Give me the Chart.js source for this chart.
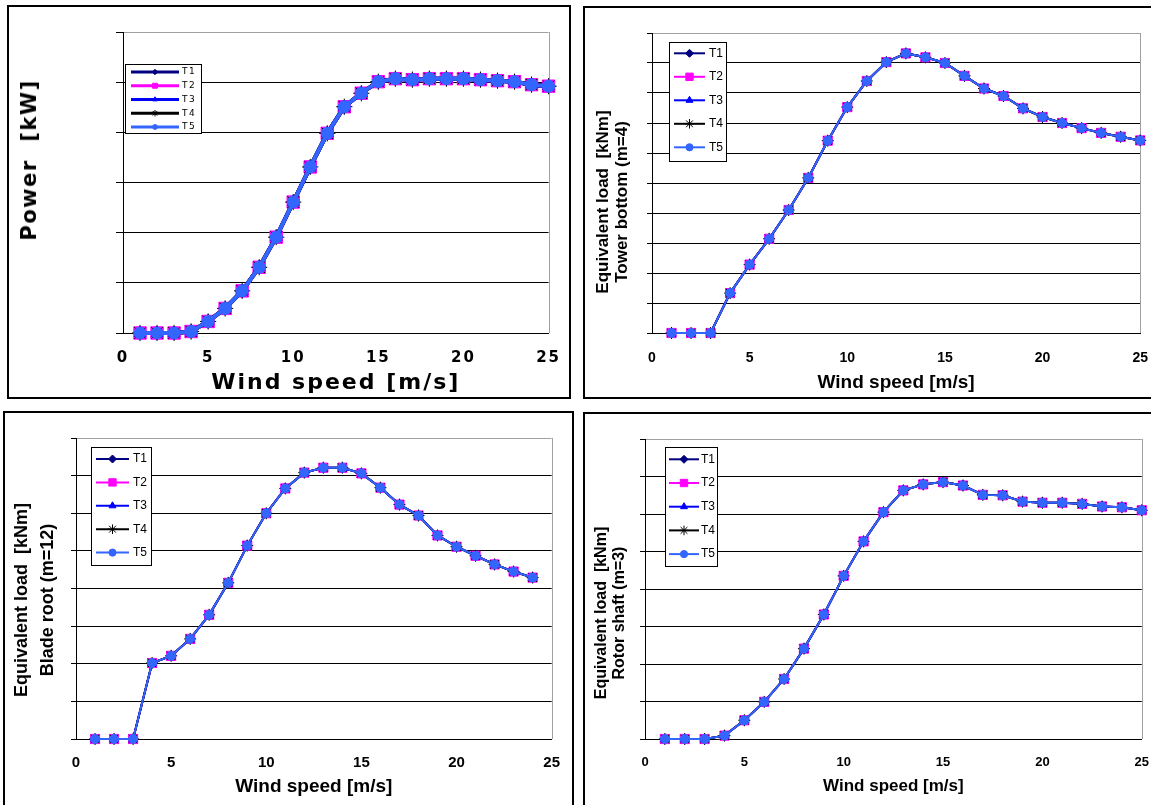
<!DOCTYPE html>
<html>
<head>
<meta charset="utf-8">
<script src="https://cdn.jsdelivr.net/npm/chart.js@4.4.1/dist/chart.umd.min.js"></script>
<style>
body { margin: 0; width: 1151px; height: 805px; overflow: hidden; background: #fff; position: relative; font-family: "Liberation Sans", Arial, sans-serif; }
.frame { position: absolute; border: 2px solid #000; box-sizing: border-box; }
canvas { position: absolute; }
.ytitle { position: absolute; transform: translate(-50%, -50%) rotate(-90deg); white-space: pre; text-align: center; font-weight: bold; color: #000; }
</style>
</head>
<body>
<div class="frame" style="left:7px;top:5px;width:564px;height:394px"></div>
<div class="frame" style="left:583px;top:6px;width:600px;height:393px"></div>
<div class="frame" style="left:3px;top:411px;width:571px;height:420px"></div>
<div class="frame" style="left:583px;top:412px;width:600px;height:420px"></div>

<canvas id="power" width="575" height="400" style="left:0;top:0"></canvas>
<canvas id="tower" width="590" height="400" style="left:575px;top:0"></canvas>
<canvas id="blade" width="575" height="405" style="left:0;top:400px"></canvas>
<canvas id="rotor" width="590" height="405" style="left:575px;top:400px"></canvas>

<div class="ytitle" style="left:29px;top:160px;font-family:'DejaVu Sans';font-size:21px;letter-spacing:1.5px">Power  [kW]</div>
<div class="ytitle" style="left:612px;top:202px;font-size:17px;line-height:19px">Equivalent load  [kNm]
Tower bottom (m=4)</div>
<div class="ytitle" style="left:34px;top:600px;font-size:18px;line-height:26px">Equivalent load  [kNm]
Blade root (m=12)</div>
<div class="ytitle" style="left:610px;top:613px;font-size:16px;line-height:18px">Equivalent load  [kNm]
Rotor shaft (m=3)</div>

<script>
// wind speed bins [m/s]
const windSpeed = [1, 2, 3, 4, 5, 6, 7, 8, 9, 10, 11, 12, 13, 14, 15, 16, 17, 18, 19, 20, 21, 22, 23, 24, 25];
const seriesNames = ['T1', 'T2', 'T3', 'T4', 'T5'];
const xTicks = [0, 5, 10, 15, 20, 25];

// the five towers give the same curves, so each panel has one set of values
const powerKW = [0, 0, 0, 15, 115, 245, 420, 655, 955, 1305, 1655, 1990, 2255, 2390, 2505, 2535, 2525, 2535, 2535, 2535, 2525, 2515, 2505, 2475, 2460];
const towerBottom = [0, 0, 0, 1330, 2280, 3140, 4100, 5170, 6410, 7530, 8400, 9030, 9320, 9190, 9000, 8570, 8150, 7900, 7490, 7200, 7000, 6830, 6670, 6540, 6420];
const bladeRoot = [0, 0, 0, 1010, 1105, 1330, 1650, 2075, 2570, 3000, 3330, 3540, 3605, 3605, 3530, 3340, 3115, 2970, 2705, 2555, 2435, 2320, 2225, 2145];
const rotorShaft = [0, 0, 0, 9, 50, 99, 160, 241, 332, 435, 527, 605, 663, 679, 685, 676, 651, 650, 633, 630, 630, 627, 620, 618, 610];

const seriesStyle = [
    { color: '#000080', point: 'rectRot', r: 5 },
    { color: '#ff00ff', point: 'rect', r: 6.5 },
    { color: '#0000ff', point: 'triangle', r: 5 },
    { color: '#000000', point: 'star', r: 6 },
    { color: '#3366ff', point: 'circle', r: 4.5 }
];

// gray right edge of the plot area
const plotFrame = {
    id: 'plotFrame',
    beforeDatasetsDraw(chart) {
        const { ctx, chartArea: a } = chart;
        const x = Math.round(a.right) + 0.5;
        ctx.save();
        ctx.strokeStyle = '#a0a0a0';
        ctx.lineWidth = 1;
        ctx.beginPath();
        ctx.moveTo(x, a.top);
        ctx.lineTo(x, a.bottom);
        ctx.stroke();
        ctx.restore();
    }
};

const spacer = {
    id: 'spacer',
    beforeDraw(chart, args, opts) {
        chart.ctx.letterSpacing = opts.value || '0px';
    }
};

// boxed legend sitting inside the plot area
const boxLegend = {
    id: 'boxLegend',
    afterDraw(chart, args, o) {
        const ctx = chart.ctx;
        ctx.save();
        ctx.letterSpacing = o.spacing || '0px';
        ctx.fillStyle = '#fff';
        ctx.fillRect(o.x, o.y, o.w, o.h);
        ctx.strokeStyle = '#000';
        ctx.lineWidth = 1;
        ctx.strokeRect(o.x + 0.5, o.y + 0.5, o.w, o.h);
        ctx.font = o.font;
        ctx.textBaseline = 'middle';
        chart.data.datasets.forEach((ds, i) => {
            const y = o.y + o.first + i * o.step;
            const x0 = o.x + o.lineX;
            const x1 = x0 + o.lineLen;
            ctx.strokeStyle = ds.borderColor;
            ctx.lineWidth = o.lineWidth;
            ctx.beginPath();
            ctx.moveTo(x0, y);
            ctx.lineTo(x1, y);
            ctx.stroke();
            ctx.fillStyle = ds.pointBackgroundColor;
            ctx.strokeStyle = ds.pointBorderColor;
            ctx.lineWidth = 1;
            const r = ds.pointRadius * o.markScale;
            if (Chart.helpers && Chart.helpers.drawPoint) {
                Chart.helpers.drawPoint(ctx, { pointStyle: ds.pointStyle, radius: r, borderWidth: 1, rotation: 0 }, (x0 + x1) / 2, y);
            }
            ctx.fillStyle = '#000';
            ctx.fillText(ds.label, o.x + o.textX, y);
        });
        ctx.restore();
    }
};

function makeChart(id, values, p) {
    const ctx = document.getElementById(id).getContext('2d');
    return new Chart(ctx, {
        type: 'line',
        data: {
            datasets: seriesNames.map((name, i) => {
                const s = seriesStyle[i];
                return {
                    label: name,
                    data: values.map((v, k) => ({ x: windSpeed[k], y: v })),
                    borderColor: s.color,
                    backgroundColor: s.color,
                    pointBackgroundColor: s.point === 'star' ? 'rgba(0,0,0,0)' : s.color,
                    pointBorderColor: s.color,
                    pointBorderWidth: 1,
                    pointStyle: s.point,
                    pointRadius: s.r * p.pointScale,
                    borderWidth: p.lineWidth,
                    order: seriesNames.length - 1 - i,
                    clip: false,
                    tension: 0
                };
            })
        },
        options: {
            responsive: false,
            animation: false,
            devicePixelRatio: 1,
            layout: { padding: p.padding },
            scales: {
                x: {
                    type: 'linear',
                    min: 0,
                    max: 25,
                    afterFit: s => { s.height = p.xHeight; },
                    afterBuildTicks: s => { s.ticks = xTicks.map(v => ({ value: v })); },
                    grid: { display: false, drawTicks: false },
                    border: { color: '#000', width: 1 },
                    ticks: { color: '#000', font: p.tickFont, padding: p.tickPad, maxRotation: 0, autoSkip: false },
                    title: { display: true, text: 'Wind speed [m/s]', color: '#000', font: p.titleFont, padding: 0 }
                },
                y: {
                    min: 0,
                    max: p.ymax,
                    afterFit: s => { s.width = p.yWidth; },
                    ticks: { stepSize: p.ystep, display: false },
                    grid: {
                        color: c => (c.tick && c.tick.value === p.ymax ? '#a0a0a0' : '#000'),
                        tickColor: '#000',
                        tickLength: p.tickLen,
                        lineWidth: 1
                    },
                    border: { color: '#000', width: 1 }
                }
            },
            plugins: {
                legend: { display: false },
                tooltip: { enabled: false },
                boxLegend: p.legend,
                spacer: { value: p.spacing }
            }
        },
        plugins: [spacer, plotFrame, boxLegend]
    });
}

makeChart('power', powerKW, {
    padding: { left: 113, right: 21, top: 32, bottom: 4 },
    yWidth: 10, xHeight: 63, tickLen: 7,
    ymax: 3000, ystep: 500,
    tickFont: { family: 'DejaVu Sans', weight: 'bold', size: 15 }, tickPad: 16,
    titleFont: { family: 'DejaVu Sans', weight: 'bold', size: 22 },
    spacing: '2px',
    lineWidth: 4, pointScale: 1.35,
    legend: { x: 125, y: 64, w: 76, h: 69, first: 8, step: 13.75, lineX: 6, lineLen: 48, textX: 57,
              font: '9px "DejaVu Sans"', spacing: '1.5px', lineWidth: 3, markScale: 0.4 }
});

makeChart('tower', towerBottom, {
    padding: { left: 71, right: 22, top: 33, bottom: 6 },
    yWidth: 6, xHeight: 61, tickLen: 5,
    ymax: 10000, ystep: 1000,
    tickFont: { family: 'Liberation Sans', weight: 'bold', size: 14 }, tickPad: 17,
    titleFont: { family: 'Liberation Sans', weight: 'bold', size: 19 },
    lineWidth: 2, pointScale: 1,
    legend: { x: 94, y: 42, w: 57, h: 119, first: 11.3, step: 23.5, lineX: 5, lineLen: 31, textX: 40,
              font: '12px "Liberation Sans"', lineWidth: 2, markScale: 0.8 }
});

makeChart('blade', bladeRoot, {
    padding: { left: 70, right: 12, top: 38, bottom: 7 },
    yWidth: 6, xHeight: 59, tickLen: 5,
    ymax: 4000, ystep: 500,
    tickFont: { family: 'Liberation Sans', weight: 'bold', size: 15 }, tickPad: 15,
    titleFont: { family: 'Liberation Sans', weight: 'bold', size: 19 },
    lineWidth: 2, pointScale: 1,
    legend: { x: 91, y: 47, w: 60, h: 118, first: 12, step: 23.4, lineX: 5, lineLen: 33, textX: 42,
              font: '12px "Liberation Sans"', lineWidth: 2, markScale: 0.8 }
});

makeChart('rotor', rotorShaft, {
    padding: { left: 64, right: 19, top: 39, bottom: 8 },
    yWidth: 6, xHeight: 58, tickLen: 5,
    ymax: 800, ystep: 100,
    tickFont: { family: 'Liberation Sans', weight: 'bold', size: 13 }, tickPad: 16,
    titleFont: { family: 'Liberation Sans', weight: 'bold', size: 17 },
    lineWidth: 2, pointScale: 1,
    legend: { x: 90, y: 47, w: 52, h: 119, first: 12.3, step: 23.7, lineX: 4, lineLen: 30, textX: 36,
              font: '12px "Liberation Sans"', lineWidth: 2, markScale: 0.8 }
});
</script>
</body>
</html>
